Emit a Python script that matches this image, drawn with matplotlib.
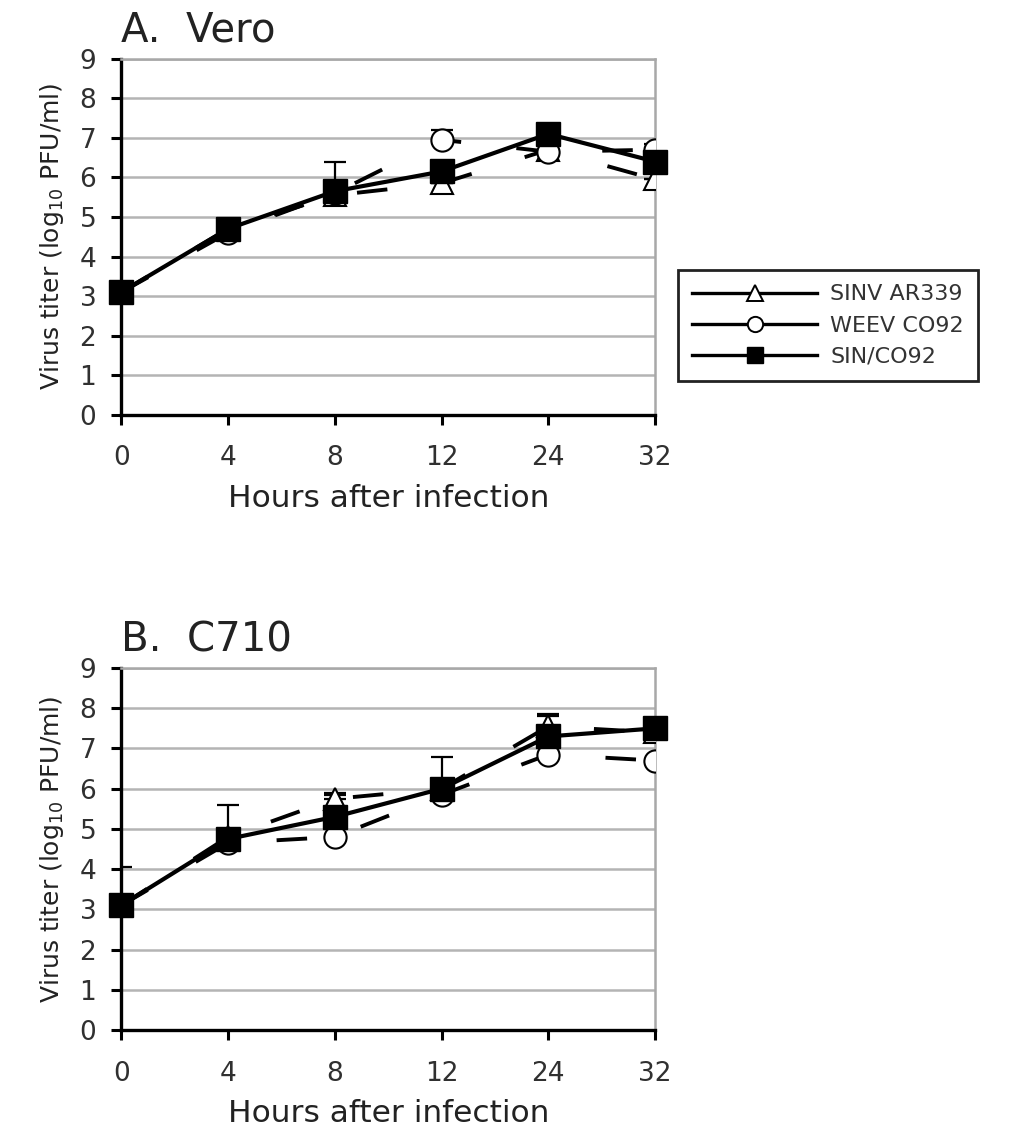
import numpy as np
import matplotlib
matplotlib.use("Agg")
import matplotlib.pyplot as plt
from matplotlib.lines import Line2D

plt.rcParams['font.family'] = ['DejaVu Sans']
plt.rcParams['mathtext.fontset'] = 'dejavusans'
plt.rcParams['lines.scale_dashes'] = False

hours = ["0", "4", "8", "12", "24", "32"]
series_names = ["SINV AR339", "WEEV CO92", "SIN/CO92"]

# panel A (Vero)
vero_sinv = [3.1, 4.7, 5.55, 5.85, 6.7, 5.95]
vero_weev = [3.1, 4.6, 5.6, 6.95, 6.65, 6.7]
vero_chim = [3.1, 4.7, 5.65, 6.15, 7.1, 6.4]
vero_sinv_err = [0, 0, 0, 0, 0, 0]
vero_weev_err = [0, 0, 0, 0.25, 0, 0.15]
vero_chim_err = [0, 0, 0.75, 0, 0.1, 0]

# panel B (C710)
c710_sinv = [3.1, 4.8, 5.75, 6.0, 7.55, 7.4]
c710_weev = [3.1, 4.65, 4.8, 5.85, 6.85, 6.7]
c710_chim = [3.1, 4.75, 5.3, 6.0, 7.3, 7.5]
c710_sinv_err = [0, 0, 0.1, 0, 0.3, 0]
c710_weev_err = [0, 0, 0, 0, 0, 0]
c710_chim_err = [0.95, 0.85, 0.6, 0.8, 0.5, 0]

fig = plt.figure(figsize=(10.11, 11.3), dpi=100)
axA = fig.add_axes([0.120, 0.633, 0.528, 0.315])
axB = fig.add_axes([0.120, 0.0885, 0.528, 0.3203])

x = np.arange(len(hours))
dash = (0, (22, 40))


def draw(ax, sinv, weev, chim, e_s, e_w, e_c, title):
    for vals, err in [(sinv, e_s), (weev, e_w), (chim, e_c)]:
        ax.errorbar(x, vals, yerr=[np.zeros(6), err], fmt='none', ecolor='black',
                    elinewidth=1.6, capsize=8, capthick=1.6, zorder=3)
    ax.plot(x, sinv, color='black', lw=2.8, linestyle=dash, marker='^', ms=16,
            mfc='white', mec='black', mew=1.5, zorder=4)
    ax.plot(x, weev, color='black', lw=2.8, linestyle=dash, marker='o', ms=16,
            mfc='white', mec='black', mew=1.5, zorder=5)
    ax.plot(x, chim, color='black', lw=3.0, marker='s', ms=17,
            mfc='black', mec='black', zorder=6, clip_on=False)
    ax.set_xlim(0, 5)
    ax.set_ylim(0, 9)
    ax.set_xticks(x)
    ax.set_xticklabels(hours)
    ax.set_yticks(range(10))
    ax.yaxis.grid(True, color='#b4b4b4', lw=1.8)
    ax.set_axisbelow(True)
    for s in ['top', 'right']:
        ax.spines[s].set_color('#a8a8a8')
        ax.spines[s].set_linewidth(1.8)
    for s in ['left', 'bottom']:
        ax.spines[s].set_linewidth(2.4)
    ax.tick_params(axis='both', labelsize=19, colors='black', width=2.2,
                   length=7, direction='out', labelcolor='#303030')
    ax.tick_params(axis='x', pad=15)
    ax.tick_params(axis='y', pad=11)
    ax.set_xlabel("Hours after infection", fontsize=22.5, labelpad=9, color='#222222')
    ax.set_ylabel(r"Virus titer (log$_{10}$ PFU/ml)", fontsize=18,
                  labelpad=10, color='#222222')
    ax.text(0.0, 1.022, title, transform=ax.transAxes, fontsize=29,
            ha='left', va='bottom', color='#222222')


draw(axA, vero_sinv, vero_weev, vero_chim, vero_sinv_err, vero_weev_err,
     vero_chim_err, "A.  Vero")
draw(axB, c710_sinv, c710_weev, c710_chim, c710_sinv_err, c710_weev_err,
     c710_chim_err, "B.  C710")

handles = [
    Line2D([], [], color='black', lw=2.4, marker='^', ms=11, mfc='white', mec='black', mew=1.4),
    Line2D([], [], color='black', lw=2.4, marker='o', ms=11, mfc='white', mec='black', mew=1.4),
    Line2D([], [], color='black', lw=2.4, marker='s', ms=11, mfc='black', mec='black'),
]
leg = fig.legend(handles, series_names, loc='upper left',
                 bbox_to_anchor=(678 / 1011, 1 - 270 / 1130), fontsize=16,
                 handlelength=5.6, labelspacing=0.5, borderpad=0.65,
                 handletextpad=0.6, borderaxespad=0, fancybox=False, framealpha=1)
leg.get_frame().set_edgecolor('#222222')
leg.get_frame().set_linewidth(2.0)
for t in leg.get_texts():
    t.set_color('#333333')

fig.savefig("out.png", dpi=100)
